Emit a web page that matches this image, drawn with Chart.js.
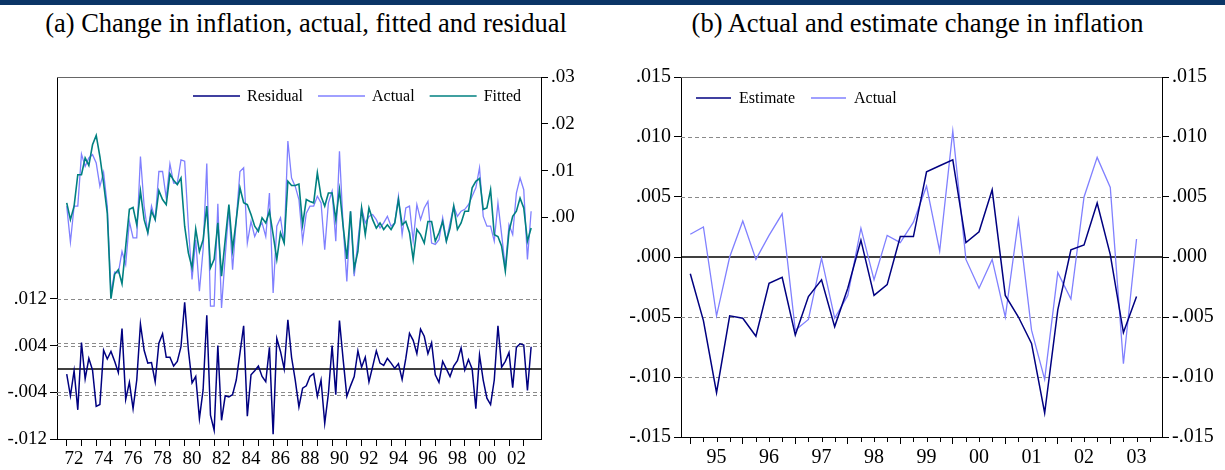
<!DOCTYPE html>
<html>
<head>
<meta charset="UTF-8">
<title>Change in inflation</title>
<script src="https://cdn.jsdelivr.net/npm/chart.js"></script>
<style>
    body {
        margin: 0;
        width: 1225px;
        height: 470px;
        position: relative;
        overflow: hidden;
        background: #fff;
        font-family: "Liberation Serif", "Times New Roman", serif;
    }

    #topbar {
        position: absolute;
        left: 0;
        top: 0;
        width: 1225px;
        height: 5px;
        background: #0b3566;
    }

    .title {
        position: absolute;
        top: 8px;
        font-size: 26.5px;
        line-height: 30px;
        text-align: center;
        color: #000;
        white-space: nowrap;
    }

    canvas {
        position: absolute;
        top: 40px;
    }
</style>
</head>
<body>
<div id="topbar"></div>
<div class="title" style="left:0;width:612px">(a) Change in inflation, actual, fitted and residual</div>
<div class="title" style="left:612px;width:611px">(b) Actual and estimate change in inflation</div>
<canvas id="chartA" width="612" height="430" style="left:0"></canvas>
<canvas id="chartB" width="613" height="430" style="left:612px"></canvas>

<script>
    // panel (a): quarterly, first observation 1972Q1
    const startA = 1972;
    const residual = [
        -0.0009, -0.0046, -0.0003, -0.0070, 0.0045, -0.0017, 0.0018, -0.0002, -0.0064, -0.0061,
        0.0032, 0.0017, 0.0030, 0.0013, -0.0006, 0.0069, -0.0052, -0.0023, -0.0068, -0.0019,
        0.0077, 0.0032, 0.0010, 0.0011, -0.0022, 0.0044, 0.0060, 0.0020, 0.0020, 0.0005,
        0.0013, 0.0038, 0.0114, 0.0033, -0.0024, -0.0013, -0.0085, -0.0036, 0.0092, -0.0079,
        -0.0105, 0.0040, -0.0088, -0.0046, -0.0048, -0.0044, -0.0019, 0.0027, 0.0074, -0.0081,
        -0.0010, -0.0003, 0.0005, -0.0013, -0.0022, 0.0037, -0.0112, 0.0052, 0.0030, 0.0000,
        0.0084, 0.0020, -0.0019, -0.0065, -0.0033, -0.0029, -0.0013, -0.0008, -0.0047, -0.0019,
        -0.0093, -0.0042, 0.0040, -0.0044, 0.0083, 0.0016, -0.0047, -0.0029, -0.0013, 0.0031,
        0.0003, 0.0020, -0.0022, 0.0004, 0.0031, 0.0010, 0.0006, 0.0018, 0.0010, 0.0001,
        0.0009, -0.0018, 0.0018, 0.0061, 0.0049, 0.0026, 0.0068, 0.0056, 0.0026, 0.0045,
        -0.0010, -0.0023, 0.0013, 0.0000, -0.0013, 0.0005, 0.0014, 0.0036, -0.0002, 0.0016,
        0.0000, -0.0068, 0.0024, -0.0019, -0.0050, -0.0061, -0.0019, 0.0074, 0.0003, 0.0013,
        0.0028, -0.0032, 0.0037, 0.0043, 0.0041, -0.0037, 0.0038
    ];
    const actualA = [
        0.0024, -0.0053, 0.0024, 0.0024, 0.0135, 0.0109, 0.0127, 0.0134, 0.0116, 0.0066,
        0.0096, 0.0024, -0.0162, -0.0117, -0.0119, -0.0073, -0.0101, -0.0009, -0.0044, -0.0044,
        0.0130, 0.0024, -0.0033, 0.0024, -0.0005, 0.0098, 0.0098, 0.0041, 0.0114, 0.0073,
        0.0073, 0.0123, 0.0120, -0.0019, -0.0133, -0.0048, -0.0158, -0.0069, 0.0115, -0.0190,
        -0.0190, 0.0029, -0.0194, -0.0083, 0.0020, -0.0112, -0.0005, 0.0098, 0.0106, -0.0055,
        -0.0009, -0.0041, -0.0023, -0.0012, -0.0041, 0.0052, -0.0162, -0.0019, -0.0001, -0.0055,
        0.0163, 0.0084, 0.0066, 0.0038, -0.0051, 0.0009, 0.0024, 0.0024, 0.0045, 0.0031,
        -0.0069, 0.0031, 0.0056, -0.0051, 0.0141, -0.0019, -0.0137, 0.0013, -0.0126, -0.0051,
        0.0020, -0.0012, 0.0002, 0.0006, -0.0005, -0.0023, -0.0012, 0.0002, -0.0019, -0.0012,
        0.0045, -0.0037, 0.0020, 0.0024, -0.0051, 0.0027, -0.0005, 0.0020, 0.0034, -0.0055,
        -0.0058, -0.0048, -0.0001, -0.0051, -0.0012, 0.0024, 0.0002, 0.0013, 0.0017, 0.0027,
        0.0045, 0.0063, 0.0106, 0.0002, -0.0019, -0.0019, -0.0051, 0.0031, -0.0037, -0.0108,
        -0.0016, -0.0037, 0.0052, 0.0084, 0.0059, -0.0090, 0.0013
    ];
    const fitted = [
        0.0031, -0.0005, 0.0024, 0.0091, 0.0091, 0.0127, 0.0111, 0.0155, 0.0175, 0.0130,
        0.0073, 0.0009, -0.0174, -0.0122, -0.0112, -0.0142, -0.0062, 0.0017, 0.0021, -0.0016,
        0.0056, -0.0005, -0.0033, 0.0013, -0.0005, 0.0057, 0.0038, 0.0027, 0.0093, 0.0079,
        0.0070, 0.0084, -0.0019, -0.0076, -0.0108, -0.0025, -0.0073, -0.0048, 0.0024, -0.0108,
        -0.0090, -0.0012, -0.0126, -0.0048, 0.0027, -0.0069, -0.0005, 0.0063, 0.0031, 0.0027,
        0.0006, -0.0019, -0.0030, -0.0001, -0.0012, 0.0013, -0.0037, -0.0090, -0.0033, -0.0055,
        0.0077, 0.0068, 0.0068, 0.0071, -0.0016, 0.0038, 0.0034, 0.0031, 0.0095, 0.0045,
        0.0024, 0.0052, 0.0052, -0.0005, 0.0059, -0.0019, -0.0089, 0.0013, -0.0110, -0.0073,
        0.0020, -0.0037, 0.0020, -0.0005, -0.0023, -0.0012, -0.0026, -0.0016, -0.0026, -0.0012,
        0.0038, -0.0016, -0.0009, -0.0033, -0.0090, -0.0026, -0.0037, -0.0055, -0.0009, -0.0009,
        -0.0051, -0.0033, -0.0009, -0.0051, -0.0023, 0.0024, -0.0026, -0.0012, 0.0013, 0.0013,
        0.0063, 0.0077, 0.0083, 0.0017, 0.0020, 0.0059, -0.0037, -0.0041, -0.0062, -0.0115,
        -0.0030, 0.0002, 0.0013, 0.0041, 0.0020, -0.0051, -0.0023
    ];
    const residTicks = [-0.012, -0.004, 0.004, 0.012];
    const levelTicks = [0, 0.01, 0.02, 0.03];
    const residBand = 0.0045;   // +/- 1 s.e. lines

    // panel (b): quarterly, first observation 1995Q1
    const startB = 1995;
    const estimate = [
        -0.0014, -0.0053, -0.0113, -0.0049, -0.0051, -0.0066, -0.0022, -0.0017,
        -0.0065, -0.0033, -0.0019, -0.0058, -0.0026, 0.0014, -0.0032, -0.0023,
        0.0017, 0.0017, 0.0071, 0.0076, 0.0081, 0.0012, 0.0021, 0.0056,
        -0.0032, -0.0050, -0.0072, -0.0130, -0.0044, 0.0006, 0.0010, 0.0045,
        0.0002, -0.0063, -0.0033
    ];
    const actualB = [
        0.0019, 0.0025, -0.0049, 0.0000, 0.0030, -0.0002, 0.0018, 0.0036,
        -0.0061, -0.0052, -0.0001, -0.0051, -0.0032, 0.0024, -0.0019, 0.0018,
        0.0012, 0.0029, 0.0059, 0.0005, 0.0105, -0.0002, -0.0026, -0.0002,
        -0.0050, 0.0031, -0.0061, -0.0102, -0.0013, -0.0035, 0.0050, 0.0083,
        0.0058, -0.0089, 0.0015
    ];
    const bTicks = [-0.015, -0.010, -0.005, 0, 0.005, 0.010, 0.015];

    const NAVY = '#000080', LIGHT = '#8080ff', TEAL = '#008080', GRID = '#8a8a8a';

    const toPoints = (arr, start) => arr.map((v, i) => ({ x: start + i / 4, y: v }));
    const fmt = d => v => v.toFixed(d).replace('0.', '.');
    const yearLabel = v => String(Math.floor(v) % 100).padStart(2, '0');

    // year boundaries get a tick mark, mid-years carry the label
    function yearTicks(first, last, labelStep) {
        const t = [];
        for (let y = first; y <= last; y++) {
            t.push({ value: y });
            if ((y - first) % labelStep === 0 && y < last) t.push({ value: y + 0.5 });
        }
        return t;
    }

    // dashed reference lines, zero line, grey top border, legend, quarter ticks
    const decor = {
        id: 'decor',
        beforeDatasetsDraw(chart, args, o) {
            const { ctx, chartArea: a } = chart;
            const s = chart.scales[o.scale];
            ctx.save();
            ctx.lineWidth = 1;
            ctx.strokeStyle = GRID;
            ctx.setLineDash([4, 3]);
            o.dashed.forEach(v => {
                const y = Math.round(s.getPixelForValue(v)) + 0.5;
                ctx.beginPath(); ctx.moveTo(a.left, y); ctx.lineTo(a.right, y); ctx.stroke();
            });
            ctx.setLineDash([]);
            ctx.strokeStyle = '#000';
            ctx.lineWidth = 1.6;
            const y0 = s.getPixelForValue(0);
            ctx.beginPath(); ctx.moveTo(a.left, y0); ctx.lineTo(a.right, y0); ctx.stroke();
            ctx.strokeStyle = '#666';
            ctx.lineWidth = 1;
            ctx.beginPath(); ctx.moveTo(a.left, a.top + 0.5); ctx.lineTo(a.right, a.top + 0.5); ctx.stroke();
            ctx.restore();
        },
        afterDraw(chart, args, o) {
            const { ctx, chartArea: a } = chart;
            ctx.save();
            if (o.quarterTicks) {
                const xs = chart.scales.x;
                ctx.strokeStyle = '#000';
                ctx.lineWidth = 1;
                for (let q = Math.ceil(xs.min * 4); q <= Math.floor(xs.max * 4); q++) {
                    if (q % 4 === 0) continue;
                    const x = Math.round(xs.getPixelForValue(q / 4)) + 0.5;
                    ctx.beginPath(); ctx.moveTo(x, a.bottom); ctx.lineTo(x, a.bottom + 5); ctx.stroke();
                }
            }
            const lg = o.legend;
            ctx.font = '16px "Liberation Serif"';
            ctx.textBaseline = 'middle';
            ctx.fillStyle = '#000';
            let x = a.left + lg.x;
            const y = a.top + lg.y;
            chart.data.datasets.slice().sort((p, q) => p.legendOrder - q.legendOrder).forEach(ds => {
                ctx.strokeStyle = ds.borderColor;
                ctx.lineWidth = ds.borderWidth;
                ctx.beginPath(); ctx.moveTo(x, y); ctx.lineTo(x + lg.line, y); ctx.stroke();
                ctx.fillText(ds.label, x + lg.line + lg.gap, y + 1);
                x += lg.line + lg.gap + ctx.measureText(ds.label).width + lg.space;
            });
            ctx.restore();
        }
    };

    const tickFont = size => ({ family: '"Liberation Serif"', size: size });

    function yAxis(pos, min, max, values, digits, width, size) {
        return {
            type: 'linear', position: pos, min: min, max: max,
            afterBuildTicks: s => { s.ticks = values.map(v => ({ value: v })); },
            afterFit: s => { s.width = width; },
            ticks: { callback: fmt(digits), color: '#000', font: tickFont(size), padding: 3, autoSkip: false },
            grid: { drawOnChartArea: false, tickLength: 7, tickColor: '#000' },
            border: { color: '#000', width: 1 }
        };
    }

    function xAxis(min, max, ticks, height, size) {
        return {
            type: 'linear', min: min, max: max,
            afterBuildTicks: s => { s.ticks = ticks.filter(t => t.value >= min && t.value <= max); },
            afterFit: s => { s.height = height; },
            ticks: {
                autoSkip: false, maxRotation: 0, color: '#000', font: tickFont(size), padding: 2,
                callback: v => (v % 1 === 0 ? '' : yearLabel(v))
            },
            grid: {
                drawOnChartArea: false, tickLength: 7, tickWidth: 1,
                tickColor: c => (c.tick && c.tick.value % 1 === 0 ? '#000' : 'rgba(0,0,0,0)')
            },
            border: { color: '#000', width: 1 }
        };
    }

    const lineDs = (label, data, color, width, axis, legendOrder) => ({
        label: label, data: data, borderColor: color, borderWidth: width, yAxisID: axis,
        pointRadius: 0, tension: 0, fill: false, legendOrder: legendOrder
    });

    new Chart(document.getElementById('chartA'), {
        type: 'line',
        data: {
            datasets: [
                lineDs('Fitted', toPoints(fitted, startA), TEAL, 1.6, 'yR', 3),
                lineDs('Actual', toPoints(actualA, startA), LIGHT, 1.3, 'yR', 2),
                lineDs('Residual', toPoints(residual, startA), NAVY, 1.5, 'yL', 1)
            ]
        },
        options: {
            responsive: false,
            animation: false,
            events: [],
            layout: { padding: { top: 37, left: 0, right: 0, bottom: 0 } },
            scales: {
                x: xAxis(1971.34, 2004.17, yearTicks(1972, 2003, 2), 31, 19),
                yL: yAxis('left', -0.012, 0.05, residTicks, 3, 57, 19),
                yR: yAxis('right', -0.0474, 0.03, levelTicks, 2, 71, 19)
            },
            plugins: {
                legend: { display: false },
                tooltip: { enabled: false },
                decor: {
                    scale: 'yL',
                    dashed: [0.012, 0.004, -0.004, residBand, -residBand],
                    legend: { x: 136, y: 19, line: 47, gap: 7, space: 15 }
                }
            }
        },
        plugins: [decor]
    });

    new Chart(document.getElementById('chartB'), {
        type: 'line',
        data: {
            datasets: [
                lineDs('Estimate', toPoints(estimate, startB), NAVY, 1.5, 'y', 1),
                lineDs('Actual', toPoints(actualB, startB), LIGHT, 1.3, 'y', 2)
            ]
        },
        options: {
            responsive: false,
            animation: false,
            events: [],
            layout: { padding: { top: 37, left: 0, right: 0, bottom: 0 } },
            scales: {
                x: xAxis(1994.823, 2003.985, yearTicks(1995, 2004, 1), 33, 20),
                y: yAxis('left', -0.015, 0.015, bTicks, 3, 69, 20),
                y2: yAxis('right', -0.015, 0.015, bTicks, 3, 63, 20)
            },
            plugins: {
                legend: { display: false },
                tooltip: { enabled: false },
                decor: {
                    scale: 'y',
                    dashed: [0.010, 0.005, -0.005, -0.010],
                    quarterTicks: true,
                    legend: { x: 15, y: 21, line: 35, gap: 8, space: 16 }
                }
            }
        },
        plugins: [decor]
    });
</script>
</body>
</html>
